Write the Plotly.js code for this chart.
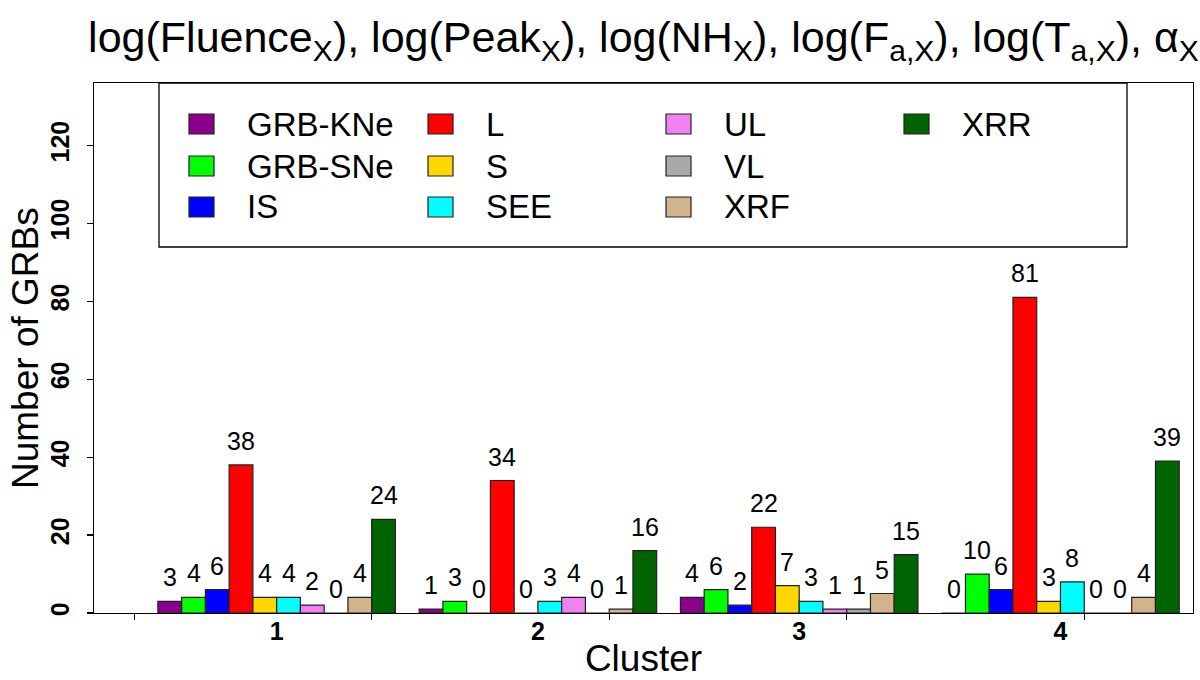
<!DOCTYPE html>
<html>
<head>
<meta charset="utf-8">
<script src="https://cdn.plot.ly/plotly-3.0.1.min.js"></script>
<style>
  html, body { margin: 0; padding: 0; background: #fff; }
  #cluster-plot { width: 1200px; height: 680px; }
</style>
</head>
<body>
<div id="cluster-plot"></div>
<script>
// clusters along the x axis
var clusters = ['1', '2', '3', '4'];

// GRB classes (one bar per class inside each cluster)
var classes = ['GRB-KNe', 'GRB-SNe', 'IS', 'L', 'S', 'SEE', 'UL', 'VL', 'XRF', 'XRR'];
var classColors = ['#8B008B', '#00FF00', '#0000FF', '#FF0000', '#FFD700',
                   '#00FFFF', '#EE82EE', '#A9A9A9', '#D2B48C', '#006400'];

// counts per class, one value per cluster
var knE = [3, 1, 4, 0];
var snE = [4, 3, 6, 10];
var isC = [6, 0, 2, 6];
var lC  = [38, 34, 22, 81];
var sC  = [4, 0, 7, 3];
var seeC = [4, 3, 3, 8];
var ulC = [2, 4, 1, 0];
var vlC = [0, 0, 1, 0];
var xrfC = [4, 1, 5, 4];
var xrrC = [24, 16, 15, 39];
var counts = [knE, snE, isC, lC, sC, seeC, ulC, vlC, xrfC, xrrC];

var titleText = 'log(Fluence<sub>X</sub>), log(Peak<sub>X</sub>), log(NH<sub>X</sub>), ' +
                'log(F<sub>a,X</sub>), log(T<sub>a,X</sub>), α<sub>X</sub>';
var yTitle = 'Number of GRBs';
var xTitle = 'Cluster';

// ---- layout constants (pixels) ----
var W = 1200, H = 680;
var mL = 94, mR = 7, mT = 83, mB = 67;
var FONT = 'Liberation Sans, Arial, sans-serif';
var nBars = classes.length;          // bars per cluster
var groupStep = nBars + 1;           // one empty bar between clusters (R style spacing)

function px2x(px) { return (px - mL) / (W - mL - mR); }
function px2y(py) { return (H - mB - py) / (H - mT - mB); }

// x position of a bar (in bar-width units), like R barplot(beside=TRUE)
function barX(g, i) { return g * groupStep + 1 + i + 0.5; }

var data = [];
var annotations = [];
for (var i = 0; i < nBars; i++) {
    var xs = clusters.map(function(c, g) { return barX(g, i); });
    data.push({
        x: xs,
        y: counts[i],
        type: 'bar',
        name: classes[i],
        width: 1,
        showlegend: false,
        marker: { color: classColors[i], line: { color: '#222', width: 1.2 } },
        hoverinfo: 'skip'
    });
    // value labels above the bars
    for (var g = 0; g < clusters.length; g++) {
        annotations.push({
            x: xs[g], y: counts[i][g], xref: 'x', yref: 'y',
            text: String(counts[i][g]),
            showarrow: false, yanchor: 'middle', yshift: 24,
            font: { family: FONT, size: 25, color: '#000' }
        });
    }
}

// hand-drawn legend box (4 columns, 3 rows, column-major like R legend(ncol=4))
var shapes = [{
    type: 'rect', xref: 'paper', yref: 'paper',
    x0: px2x(159), x1: px2x(1127), y0: px2y(247), y1: px2y(83),
    line: { color: '#000', width: 1.3 }, fillcolor: 'rgba(0,0,0,0)'
}];
var colLeft = [189, 428, 666, 904];
var rowMid = [124, 166, 207];
for (var k = 0; k < nBars; k++) {
    var c = Math.floor(k / 3), r = k % 3;
    shapes.push({
        type: 'rect', xref: 'paper', yref: 'paper',
        x0: px2x(colLeft[c]), x1: px2x(colLeft[c] + 25),
        y0: px2y(rowMid[r] + 10), y1: px2y(rowMid[r] - 10),
        fillcolor: classColors[k], line: { color: '#222', width: 1.2 }
    });
    annotations.push({
        x: px2x(colLeft[c] + 56), y: px2y(rowMid[r]), xref: 'paper', yref: 'paper',
        text: classes[k], showarrow: false, xanchor: 'left', yanchor: 'middle',
        font: { family: FONT, size: 33, color: '#000' }
    });
}

// y axis title placed by hand (plotly pins it to the margin edge otherwise)
annotations.push({
    x: px2x(25), y: 0.5, xref: 'paper', yref: 'paper',
    text: yTitle, textangle: -90, showarrow: false,
    xanchor: 'center', yanchor: 'middle',
    font: { family: FONT, size: 37, color: '#000' }
});

var layout = {
    width: W, height: H,
    margin: { l: mL, r: mR, t: mT, b: mB, autoexpand: false },
    paper_bgcolor: '#fff', plot_bgcolor: '#fff',
    font: { family: FONT, color: '#000' },
    barmode: 'overlay',
    title: {
        text: titleText,
        font: { family: FONT, size: 43, color: '#000' },
        xref: 'paper', x: 0.5, xanchor: 'center',
        yref: 'container', y: 1 - 37 / H, yanchor: 'middle'
    },
    xaxis: {
        range: [-1.69, 44.58],
        tickvals: clusters.map(function(c, g) { return g * groupStep + 1 + nBars / 2; }),
        ticktext: clusters,
        ticks: '', ticklabelstandoff: -4,
        tickfont: { family: FONT, size: 25, weight: 'bold' },
        // R draws plain ticks every 10 bar units
        minor: {
            tickmode: 'array', tickvals: [0, 10, 20, 30, 40],
            ticks: 'outside', ticklen: 6, tickwidth: 1.2, tickcolor: '#000', showgrid: false
        },
        showline: true, mirror: true, linecolor: '#000', linewidth: 1.3,
        showgrid: false, zeroline: false,
        title: { text: xTitle, font: { family: FONT, size: 37 }, standoff: 0 }
    },
    yaxis: {
        range: [0, 136],
        tickvals: [0, 20, 40, 60, 80, 100, 120],
        ticks: 'outside', ticklen: 6, tickwidth: 1.2, tickcolor: '#000',
        tickangle: -90, ticklabelstandoff: 8,
        tickfont: { family: FONT, size: 25, weight: 'bold' },
        showline: true, mirror: true, linecolor: '#000', linewidth: 1.3,
        showgrid: false, zeroline: false
    },
    shapes: shapes,
    annotations: annotations,
    showlegend: false
};

var additional_param = {
    displayModeBar: false,      // no toolbar in the picture
    staticPlot: true
};

Plotly.newPlot('cluster-plot', data, layout, additional_param);
</script>
</body>
</html>
